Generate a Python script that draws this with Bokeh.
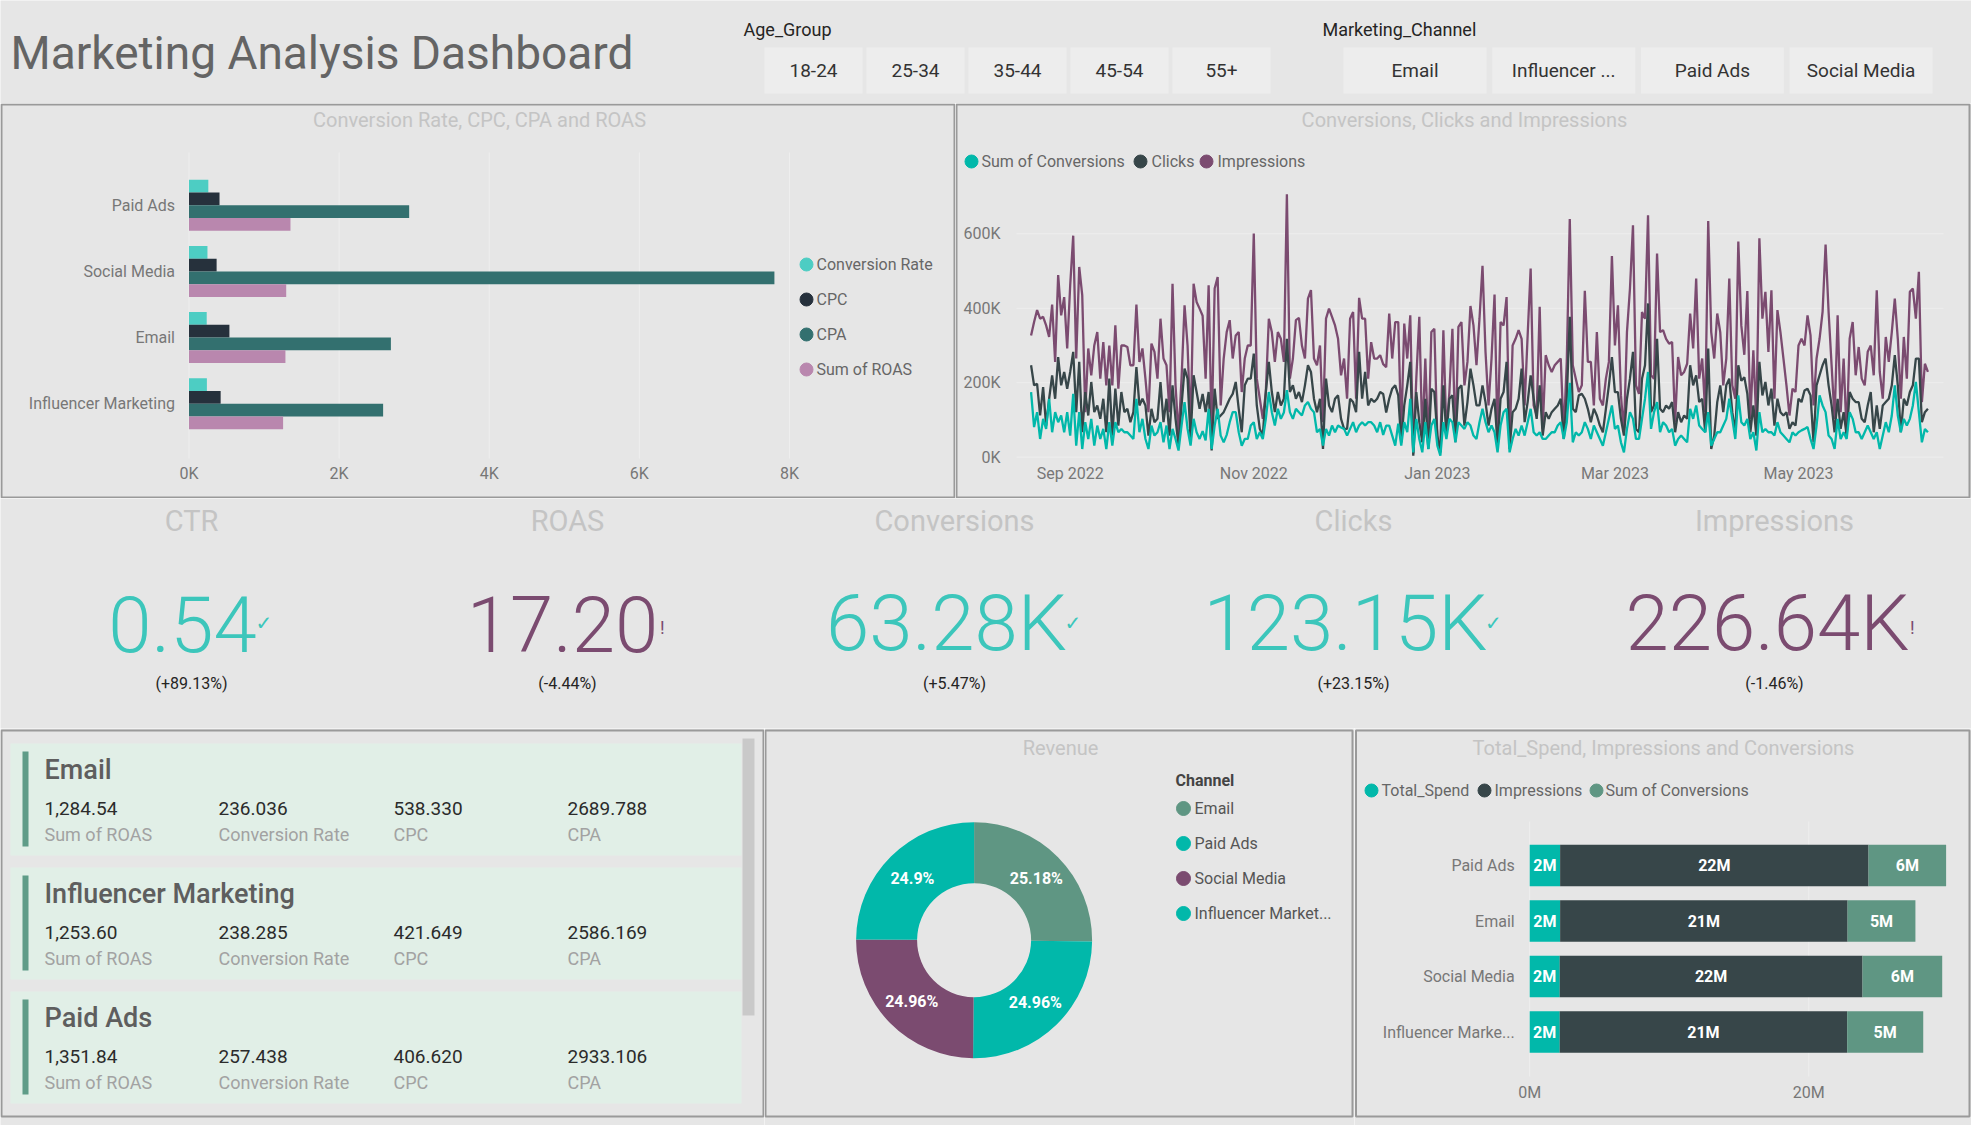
import math
import pandas as pd
from bokeh.plotting import figure
from bokeh.models import (Range1d, LinearAxis, DatetimeAxis, FixedTicker, MonthsTicker,
                          DatetimeTickFormatter, CustomJSTickFormatter, PrintfTickFormatter)
from bokeh.layouts import column, row
from bokeh.core.properties import value
from bokeh.embed import file_html
from bokeh.resources import INLINE

# ---------------- data ----------------
dashboard_title = "Marketing Analysis Dashboard"
age_groups = ["18-24", "25-34", "35-44", "45-54", "55+"]
channel_buttons = ["Email", "Influencer ...", "Paid Ads", "Social Media"]

bar_channels = ["Paid Ads", "Social Media", "Email", "Influencer Marketing"]
conversion_rate = [257.438, 246.0, 236.036, 238.285]
cpc = [406.620, 368.0, 538.330, 421.649]
cpa = [2933.106, 7799.0, 2689.788, 2586.169]
roas = [1351.84, 1295.0, 1284.54, 1253.60]
bar_series = ["Conversion Rate", "CPC", "CPA", "Sum of ROAS"]
bar_ticks = [0, 2000, 4000, 6000, 8000]

line_start = "2022-08-19"
line_series = ["Sum of Conversions", "Clicks", "Impressions"]
impressions_k = [
    327, 363, 395, 372, 377, 354, 323, 410, 256, 489,
    381, 430, 292, 462, 595, 265, 511, 435, 121, 292,
    220, 300, 336, 211, 309, 193, 300, 193, 354, 184,
    300, 300, 296, 247, 247, 410, 256, 292, 211, 121,
    305, 283, 211, 372, 265, 247, 121, 466, 193, 58,
    211, 408, 300, 76, 466, 417, 399, 380, 211, 462,
    67, 453, 484, 139, 265, 336, 368, 265, 327, 336,
    175, 265, 300, 300, 601, 211, 157, 103, 175, 372,
    336, 256, 336, 318, 256, 706, 211, 265, 368, 374,
    300, 265, 426, 449, 265, 247, 300, 94, 372, 399,
    377, 354, 318, 220, 265, 157, 372, 390, 157, 428,
    372, 372, 211, 309, 265, 265, 274, 250, 242, 386,
    265, 363, 363, 67, 359, 265, 381, 10, 211, 377,
    49, 265, 31, 336, 345, 49, 27, 341, 67, 175,
    345, 40, 350, 363, 193, 256, 406, 354, 247, 372,
    514, 283, 139, 265, 437, 49, 363, 354, 430, 31,
    300, 318, 341, 318, 139, 327, 507, 139, 112, 404,
    76, 274, 247, 229, 247, 256, 265, 60, 256, 640,
    247, 211, 175, 193, 447, 256, 256, 139, 336, 157,
    139, 211, 256, 540, 300, 408, 166, 67, 336, 453,
    623, 193, 170, 390, 372, 650, 220, 211, 547, 336,
    341, 318, 305, 309, 94, 269, 220, 229, 251, 386,
    292, 480, 211, 265, 121, 634, 336, 265, 386, 336,
    193, 265, 480, 193, 157, 579, 354, 275, 446, 103,
    287, 94, 588, 372, 444, 283, 448, 157, 395, 336,
    265, 193, 112, 184, 175, 300, 318, 300, 381, 327,
    139, 265, 318, 390, 571, 390, 247, 103, 381, 121,
    265, 58, 318, 363, 220, 296, 211, 193, 283, 300,
    220, 448, 229, 157, 323, 256, 336, 426, 318, 157,
    323, 211, 444, 453, 372, 498, 148, 251, 229,
]
clicks_k = [
    247, 193, 197, 112, 188, 85, 157, 220, 157, 269,
    193, 229, 184, 229, 283, 121, 256, 67, 175, 112,
    202, 121, 139, 103, 157, 67, 211, 58, 184, 85,
    175, 121, 130, 94, 121, 242, 139, 157, 139, 58,
    130, 94, 103, 202, 94, 157, 58, 193, 103, 31,
    139, 238, 211, 49, 220, 175, 130, 170, 121, 175,
    18, 184, 103, 112, 121, 139, 157, 170, 202, 130,
    67, 193, 211, 211, 278, 139, 76, 58, 175, 256,
    175, 121, 175, 139, 157, 318, 175, 193, 157, 175,
    148, 193, 247, 229, 157, 121, 157, 22, 211, 139,
    121, 157, 166, 103, 76, 76, 157, 148, 121, 283,
    157, 229, 139, 157, 148, 157, 175, 170, 120, 157,
    184, 193, 166, 40, 139, 193, 256, 4, 175, 94,
    40, 157, 22, 184, 175, 58, 13, 193, 58, 157,
    166, 49, 184, 193, 85, 148, 238, 193, 139, 139,
    193, 148, 85, 130, 157, 31, 157, 175, 256, 22,
    121, 130, 157, 238, 94, 148, 220, 157, 103, 193,
    58, 121, 103, 121, 130, 139, 157, 49, 157, 377,
    130, 121, 166, 170, 157, 130, 94, 130, 112, 85,
    67, 130, 193, 269, 175, 175, 103, 58, 157, 211,
    283, 76, 67, 211, 247, 413, 121, 139, 318, 130,
    121, 139, 130, 148, 67, 121, 94, 112, 103, 247,
    193, 220, 148, 157, 67, 292, 22, 58, 148, 193,
    121, 193, 211, 121, 67, 247, 205, 215, 170, 67,
    139, 58, 256, 166, 202, 139, 184, 85, 157, 121,
    112, 121, 76, 94, 85, 157, 148, 179, 184, 166,
    40, 193, 220, 247, 265, 193, 139, 67, 157, 76,
    121, 58, 175, 157, 148, 148, 103, 94, 139, 175,
    67, 139, 76, 139, 148, 157, 193, 274, 193, 67,
    157, 139, 175, 193, 265, 265, 94, 121, 130,
]
conversions_k = [
    175, 81, 121, 49, 103, 76, 157, 67, 121, 94,
    112, 67, 121, 58, 170, 31, 121, 22, 94, 49,
    103, 31, 85, 49, 76, 22, 94, 31, 94, 67,
    76, 67, 67, 58, 49, 157, 67, 103, 49, 22,
    85, 58, 67, 94, 40, 85, 22, 76, 49, 18,
    85, 148, 76, 31, 103, 67, 49, 70, 45, 130,
    22, 85, 130, 58, 40, 60, 94, 121, 121, 67,
    31, 49, 49, 85, 94, 49, 67, 49, 103, 175,
    121, 85, 130, 103, 120, 180, 121, 103, 130, 121,
    112, 139, 148, 130, 121, 67, 76, 31, 76, 58,
    85, 67, 85, 80, 76, 58, 76, 94, 67, 85,
    94, 85, 94, 94, 85, 67, 94, 60, 85, 85,
    58, 31, 90, 31, 94, 67, 157, 13, 103, 49,
    13, 94, 22, 85, 103, 31, 4, 94, 49, 103,
    94, 40, 94, 85, 76, 94, 85, 58, 49, 94,
    130, 94, 67, 85, 67, 13, 85, 121, 130, 13,
    49, 76, 58, 85, 58, 94, 130, 67, 58, 67,
    49, 49, 58, 67, 67, 85, 94, 49, 94, 200,
    40, 67, 58, 67, 94, 76, 49, 85, 67, 49,
    31, 67, 103, 139, 76, 85, 40, 13, 76, 121,
    103, 49, 49, 103, 157, 229, 76, 121, 148, 67,
    94, 85, 67, 76, 31, 49, 58, 49, 40, 130,
    103, 139, 85, 76, 67, 121, 31, 49, 67, 67,
    85, 103, 157, 103, 49, 166, 94, 85, 103, 49,
    67, 18, 121, 67, 76, 67, 67, 58, 94, 67,
    58, 49, 40, 67, 58, 67, 72, 76, 81, 49,
    22, 85, 166, 139, 121, 58, 49, 22, 103, 49,
    67, 49, 121, 103, 67, 67, 49, 67, 85, 67,
    49, 67, 22, 58, 94, 67, 112, 193, 112, 67,
    103, 85, 103, 139, 202, 121, 40, 76, 67,
]
line_y_ticks = [0, 200, 400, 600]

kpi_titles = ["CTR", "ROAS", "Conversions", "Clicks", "Impressions"]
kpi_values = ["0.54", "17.20", "63.28K", "123.15K", "226.64K"]
kpi_changes = ["(+89.13%)", "(-4.44%)", "(+5.47%)", "(+23.15%)", "(-1.46%)"]
kpi_good = [True, False, True, True, False]

card_channels = ["Email", "Influencer Marketing", "Paid Ads"]
card_labels = ["Sum of ROAS", "Conversion Rate", "CPC", "CPA"]

revenue_channels = ["Email", "Paid Ads", "Social Media", "Influencer Marketing"]
revenue_legend = ["Email", "Paid Ads", "Social Media", "Influencer Market..."]
revenue_share = [25.18, 24.96, 24.96, 24.90]

spend_channels = ["Paid Ads", "Email", "Social Media", "Influencer Marke..."]
total_spend_m = [2.18, 2.18, 2.15, 2.15]
impressions_m = [22.1, 20.6, 21.7, 20.6]
conversions_m = [5.56, 4.86, 5.71, 5.45]
spend_series = ["Total_Spend", "Impressions", "Sum of Conversions"]
spend_ticks = [0, 20]

# ---------------- style ----------------
BG = "#e6e6e6"
BORDER = "#9a9a9a"
FONT = "Roboto"
NUM_FONT = "Roboto Light"
TITLE_C = "#c4c4c4"
AXIS_C = "#777777"
LEG_C = "#666666"
TEAL = "#01b8aa"
DARK = "#374649"
PURPLE = "#7b4b70"
SAGE = "#5f9683"
KPI_TEAL = "#3cc6bb"


def page_map(va, pa, vb, pb):
    k = (vb - va) / (pb - pa)
    return lambda p: va + (p - pa) * k


def make_fig(px0, py0, w, h, xmap=None, ymap=None):
    xr = Range1d(xmap(px0), xmap(px0 + w)) if xmap else Range1d(px0, px0 + w)
    yr = Range1d(ymap(py0 + h), ymap(py0)) if ymap else Range1d(py0 + h, py0)
    p = figure(width=w, height=h, x_range=xr, y_range=yr, x_axis_type=None, y_axis_type=None,
               toolbar_location=None, output_backend="svg",
               min_border_left=0, min_border_right=0, min_border_top=0, min_border_bottom=0)
    p.background_fill_color = BG
    p.border_fill_color = BG
    p.outline_line_color = None
    p.extra_x_ranges = {"px": Range1d(px0, px0 + w)}
    p.extra_y_ranges = {"px": Range1d(py0 + h, py0)}
    return p


def txt(p, x, y, t, size, color, align="left", baseline="middle", font=FONT,
        style="normal", px=True):
    kw = {"x_range_name": "px", "y_range_name": "px"} if px else {}
    p.text(x=x, y=y, text=t, text_font=value(font), text_font_size=f"{size}px",
           text_color=color, text_align=align, text_baseline=baseline,
           text_font_style=style, **kw)


def border(p, l, r, t, b):
    p.quad(left=[l], right=[r], top=[t], bottom=[b], fill_color=None, line_color=BORDER,
           line_width=2, x_range_name="px", y_range_name="px")


def dots(p, xs, ys, colors, size=13):
    p.scatter(x=xs, y=ys, fill_color=colors, line_color=colors, size=size, marker="circle",
              x_range_name="px", y_range_name="px")


def style_axis(ax, standoff, size=16, color=AXIS_C):
    ax.axis_line_color = None
    ax.major_tick_line_color = None
    ax.minor_tick_line_color = None
    ax.major_tick_in = 0
    ax.major_tick_out = 0
    ax.minor_tick_in = 0
    ax.minor_tick_out = 0
    ax.major_label_standoff = standoff
    ax.major_label_text_font = FONT
    ax.major_label_text_font_size = f"{size}px"
    ax.major_label_text_color = color


# ---------------- header ----------------
hdr = make_fig(0, 0, 1971, 103)
txt(hdr, [10], [52], [dashboard_title], 46, "#646464")
txt(hdr, [743, 1322], [29, 29], ["Age_Group", "Marketing_Channel"], 18, "#252423")
age_x = [813 + 102 * i for i in range(len(age_groups))]
hdr.rect(x=age_x, y=[70] * len(age_x), width=98, height=46, fill_color="#ededed",
         line_color=None, x_range_name="px", y_range_name="px")
txt(hdr, age_x, [70] * len(age_x), age_groups, 19, "#333333", align="center")
ch_x = [1414.5 + 148.7 * i for i in range(len(channel_buttons))]
hdr.rect(x=ch_x, y=[70] * len(ch_x), width=143, height=46, fill_color="#ededed",
         line_color=None, x_range_name="px", y_range_name="px")
txt(hdr, ch_x, [70] * len(ch_x), channel_buttons, 19, "#333333", align="center")

# ---------------- clustered bar chart ----------------
bx = page_map(0, 188.5, 8000, 789.0)
by = page_map(0, 204.7, 1, 270.9)
bar = make_fig(0, 103, 955, 395, bx, by)
border(bar, 1, 954, 104, 497)
txt(bar, [479], [119], ["Conversion Rate, CPC, CPA and ROAS"], 20, TITLE_C, align="center")
bar.segment(x0=bar_ticks, x1=bar_ticks, y0=[152] * len(bar_ticks), y1=[458] * len(bar_ticks),
            line_color="#eeeeee", line_width=1, y_range_name="px")
bar_colors = ["#4dcdc3", "#26313c", "#33706f", "#b987ae"]
bar_h = 12.75 / 66.2
for j, (vals, col) in enumerate(zip([conversion_rate, cpc, cpa, roas], bar_colors)):
    ys = [i + (j - 1.5) * bar_h for i in range(len(bar_channels))]
    bar.hbar(y=ys, left=0, right=vals, height=bar_h, fill_color=col, line_color=None)
bxa = LinearAxis(fixed_location=by(459), ticker=FixedTicker(ticks=bar_ticks),
                 formatter=CustomJSTickFormatter(code="return (tick/1000).toFixed(0) + 'K'"))
style_axis(bxa, 4)
bar.add_layout(bxa, "below")
bya = LinearAxis(fixed_location=0, ticker=FixedTicker(ticks=list(range(len(bar_channels)))),
                 formatter=CustomJSTickFormatter(args=dict(names=bar_channels),
                                                 code="return names[Math.round(tick)] || ''"))
style_axis(bya, 14)
bar.add_layout(bya, "left")
leg_y = [264, 299, 334, 369]
dots(bar, [806] * 4, leg_y, bar_colors, size=13)
txt(bar, [816] * 4, leg_y, bar_series, 16, LEG_C)

# ---------------- line chart ----------------
sep1 = pd.Timestamp("2022-09-01").value / 1e6
may1 = pd.Timestamp("2023-05-01").value / 1e6
lx = page_map(sep1, 1069.7, may1, 1798.0)
ly = page_map(0, 456.7, 600, 233.3)
line = make_fig(955, 103, 1016, 395, lx, ly)
border(line, 956, 1969, 104, 497)
txt(line, [1464], [119], ["Conversions, Clicks and Impressions"], 20, TITLE_C, align="center")
line.segment(x0=[1016] * 4, x1=[1943] * 4, y0=line_y_ticks, y1=line_y_ticks,
             line_color="#eeeeee", line_width=1, x_range_name="px")
n = min(len(impressions_k), len(clicks_k), len(conversions_k))
dates = pd.date_range(line_start, periods=n, freq="D")
line.line(x=dates, y=impressions_k[:n], line_color=PURPLE, line_width=2.3)
line.line(x=dates, y=clicks_k[:n], line_color=DARK, line_width=2.3)
line.line(x=dates, y=conversions_k[:n], line_color=TEAL, line_width=2.3)
lxa = DatetimeAxis(fixed_location=ly(459), ticker=MonthsTicker(months=[0, 2, 4, 8, 10]),
                   formatter=DatetimeTickFormatter(days="%b %Y", months="%b %Y", years="%b %Y"))
style_axis(lxa, 4)
line.add_layout(lxa, "below")
lya = LinearAxis(fixed_location=lx(1016), ticker=FixedTicker(ticks=line_y_ticks),
                 formatter=PrintfTickFormatter(format="%dK"))
style_axis(lya, 16)
line.add_layout(lya, "left")
dots(line, [971, 1140, 1206], [161] * 3, [TEAL, DARK, PURPLE], size=13)
txt(line, [981, 1151, 1217], [161] * 3, line_series, 16, LEG_C)

# ---------------- KPI row ----------------
kpi = make_fig(0, 498, 1971, 230)
kpi_cx = [191, 567, 954, 1353, 1774]
kpi_num_cx = [182, 562, 946, 1345, 1767]
NUM_SIZE = 78
txt(kpi, kpi_cx, [520] * 5, kpi_titles, 29, TITLE_C, align="center")
kcol = [KPI_TEAL if g else PURPLE for g in kpi_good]
kpi.text(x=kpi_num_cx, y=[623] * 5, text=kpi_values, text_font=value(NUM_FONT),
         text_font_size=f"{NUM_SIZE}px", text_color=kcol, text_align="center",
         text_baseline="middle", x_range_name="px", y_range_name="px")


def est_width(s, size):
    w = 0.0
    for ch in s:
        w += 0.25 if ch == "." else (0.6 if ch == "K" else 0.55)
    return w * size


for i, g in enumerate(kpi_good):
    xend = kpi_num_cx[i] + est_width(kpi_values[i], NUM_SIZE) / 2
    if g:
        txt(kpi, [xend - 1], [622], ["\u2713"], 20, KPI_TEAL, font="DejaVu Sans")
    else:
        txt(kpi, [xend + 2], [627], ["!"], 18, PURPLE)
txt(kpi, kpi_cx, [683] * 5, kpi_changes, 16, "#252423", align="center")

# ---------------- cards ----------------
cards = make_fig(0, 728, 764, 397)
border(cards, 1, 763, 730, 1116)
card_top = [743 + 124 * i for i in range(len(card_channels))]
cards.quad(left=[10] * 3, right=[741] * 3, top=card_top, bottom=[t + 112 for t in card_top],
           fill_color="#e1efe7", line_color=None, x_range_name="px", y_range_name="px")
cards.quad(left=[22] * 3, right=[28] * 3, top=[t + 8 for t in card_top],
           bottom=[t + 103 for t in card_top], fill_color="#5f9c88", line_color=None,
           x_range_name="px", y_range_name="px")
cards.quad(left=[742], right=[754], top=[738], bottom=[1015], fill_color="#c9c9c9",
           line_color=None, x_range_name="px", y_range_name="px")
col_x = [44, 218, 393, 567]
for ch, t in zip(card_channels, card_top):
    k = bar_channels.index(ch)
    vals = [f"{roas[k]:,.2f}", f"{conversion_rate[k]:.3f}", f"{cpc[k]:.3f}", f"{cpa[k]:.3f}"]
    txt(cards, [44], [t + 26], [ch], 27, "#5e5e5e", font="Roboto Medium")
    txt(cards, col_x, [t + 65] * 4, vals, 19, "#2b2b2b")
    txt(cards, col_x, [t + 91] * 4, card_labels, 18, "#a2a2a2")

# ---------------- donut ----------------
cx, cy = 973.6, 939.7
dxm = page_map(0, cx, 1, cx + 1)
dym = page_map(0, cy, 1, cy - 1)
don = make_fig(764, 728, 590, 397, dxm, dym)
border(don, 765, 1352, 730, 1116)
txt(don, [1060], [747], ["Revenue"], 20, TITLE_C, align="center")
don_colors = [SAGE, TEAL, PURPLE, TEAL]
total = sum(revenue_share)
starts, ends, lab_x, lab_y = [], [], [], []
cum = 0.0
for v in revenue_share:
    a0 = math.pi / 2 - 2 * math.pi * cum / total
    cum += v
    a1 = math.pi / 2 - 2 * math.pi * cum / total
    starts.append(a0)
    ends.append(a1)
    mid = (a0 + a1) / 2
    lab_x.append(87.5 * math.cos(mid))
    lab_y.append(87.5 * math.sin(mid))
don.annular_wedge(x=[0] * 4, y=[0] * 4, inner_radius=57, outer_radius=118,
                  inner_radius_units="screen", outer_radius_units="screen",
                  start_angle=starts, end_angle=ends, direction="clock",
                  fill_color=don_colors, line_color=None)
txt(don, lab_x, lab_y, [f"{v:g}%" for v in revenue_share], 16, "#ffffff", align="center",
    style="bold", px=False)
txt(don, [1175], [780], ["Channel"], 16, "#444444", style="bold")
leg_dy = [808, 843, 878, 913]
dots(don, [1183] * 4, leg_dy, don_colors, size=14)
txt(don, [1194] * 4, leg_dy, revenue_legend, 16, "#555555")

# ---------------- stacked bar ----------------
sx = page_map(0, 1529.2, 20, 1808.3)
sy = page_map(0, 865, 1, 920.5)
stk = make_fig(1354, 728, 617, 397, sx, sy)
border(stk, 1355.5, 1969, 730, 1116)
txt(stk, [1663], [747], ["Total_Spend, Impressions and Conversions"], 20, TITLE_C, align="center")
stk.segment(x0=spend_ticks, x1=spend_ticks, y0=[821] * 2, y1=[1076] * 2,
            line_color="#eeeeee", line_width=1, y_range_name="px")
idx = list(range(len(spend_channels)))
left = [0.0] * len(idx)
for vals, col in zip([total_spend_m, impressions_m, conversions_m], [TEAL, DARK, SAGE]):
    right = [l + v for l, v in zip(left, vals)]
    stk.hbar(y=idx, left=left, right=right, height=0.75, fill_color=col, line_color=None)
    txt(stk, [(l + r) / 2 for l, r in zip(left, right)], idx, [f"{v:.0f}M" for v in vals],
        16, "#ffffff", align="center", style="bold", px=False)
    left = right
sxa = LinearAxis(fixed_location=sy(1078), ticker=FixedTicker(ticks=spend_ticks),
                 formatter=PrintfTickFormatter(format="%dM"))
style_axis(sxa, 4)
stk.add_layout(sxa, "below")
sya = LinearAxis(fixed_location=0, ticker=FixedTicker(ticks=idx),
                 formatter=CustomJSTickFormatter(args=dict(names=spend_channels),
                                                 code="return names[Math.round(tick)] || ''"))
style_axis(sya, 15)
stk.add_layout(sya, "left")
dots(stk, [1371, 1484, 1596], [790] * 3, [TEAL, DARK, SAGE], size=13)
txt(stk, [1381, 1494, 1605], [790] * 3, spend_series, 16, LEG_C)

layout = column(hdr, row(bar, line), kpi, row(cards, don, stk))
open("out.html", "w").write(file_html(layout, INLINE))
